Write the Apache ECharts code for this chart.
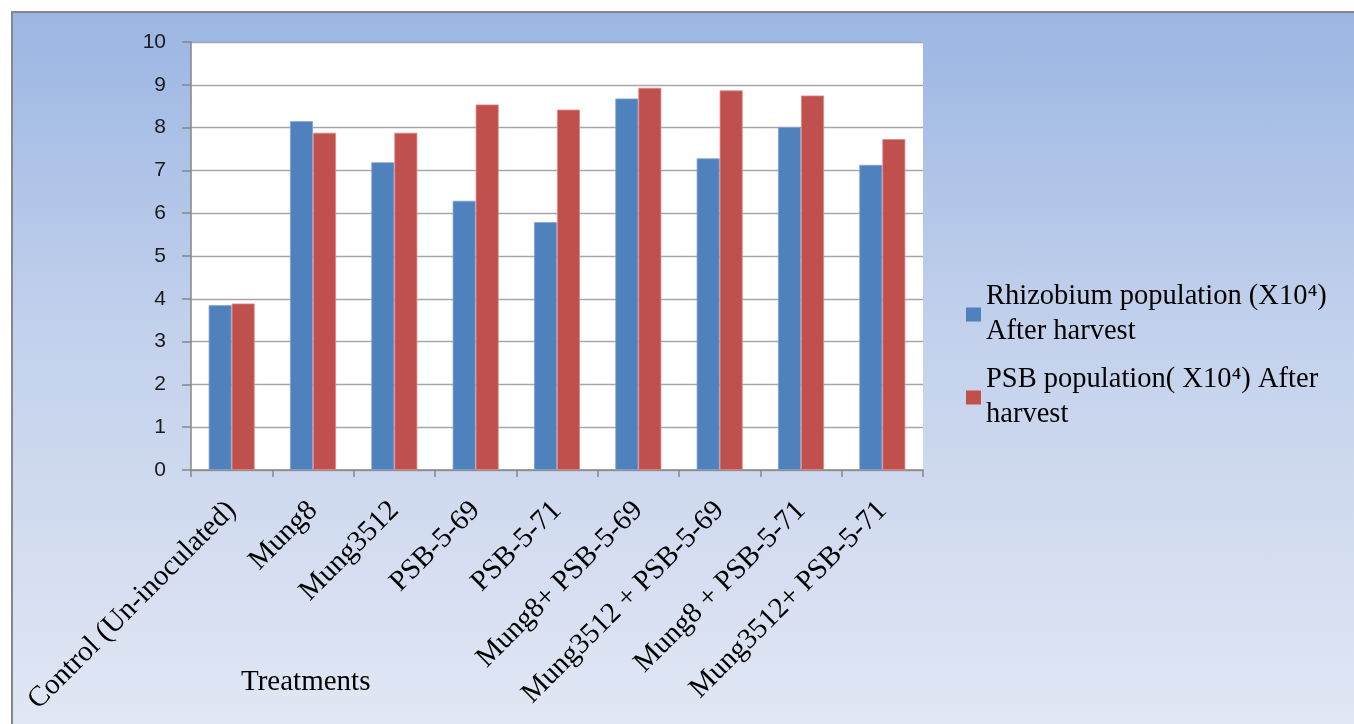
<!DOCTYPE html>
<html>
<head>
<meta charset="utf-8">
<script src="https://cdn.jsdelivr.net/npm/echarts@6/dist/echarts.min.js"></script>
<style>
html,body{margin:0;padding:0;background:#fff;width:1354px;height:724px;overflow:hidden;}
#bg{position:absolute;left:11px;top:11px;width:1343px;height:713px;border-left:2px solid #878787;border-top:2px solid #878787;box-sizing:border-box;background:linear-gradient(to bottom,#9BB6E3 0%,#C3D1EC 45%,#E1E7F4 100%);}
#chart{position:absolute;left:0;top:0;width:1354px;height:724px;}
</style>
</head>
<body>
<div id="bg"></div>
<div id="chart"></div>
<script>
const categories = ['Control (Un-inoculated)', 'Mung8', 'Mung3512', 'PSB-5-69', 'PSB-5-71', 'Mung8+ PSB-5-69', 'Mung3512 + PSB-5-69', 'Mung8 + PSB-5-71', 'Mung3512+ PSB-5-71'];
const rhizobium = [3.85, 8.15, 7.19, 6.29, 5.79, 8.68, 7.28, 8.01, 7.13];
const psb = [3.89, 7.88, 7.88, 8.54, 8.42, 8.93, 8.87, 8.75, 7.73];
const seriesNames = ['Rhizobium population (X10⁴)\nAfter harvest', 'PSB population( X10⁴) After\nharvest'];
const yTicks = {min: 0, max: 10, interval: 1};

const chart = echarts.init(document.getElementById('chart'), null, {renderer: 'canvas'});
const serif = 'Liberation Serif';
const legendText = {fontFamily: serif, fontSize: 28.5, color: '#000', lineHeight: 35, padding: [35, 0, 0, 0]};
const legendIcon = {borderWidth: 0};
chart.setOption({
  animation: false,
  backgroundColor: 'transparent',
  title: {text: 'Treatments', left: 236, top: 663, textStyle: {fontFamily: serif, fontSize: 29, fontWeight: 'normal', color: '#000'}},
  legend: [
    {data: [seriesNames[0]], orient: 'vertical', left: 966, top: 262, padding: 0, itemWidth: 15, itemHeight: 14, icon: 'rect', itemStyle: legendIcon, textStyle: legendText},
    {data: [seriesNames[1]], orient: 'vertical', left: 966, top: 345, padding: 0, itemWidth: 15, itemHeight: 14, icon: 'rect', itemStyle: legendIcon, textStyle: legendText}
  ],
  grid: {left: 191, right: 431, top: 42, bottom: 254, show: true, backgroundColor: '#fff', borderWidth: 0, containLabel: false},
  xAxis: {
    type: 'category', data: categories,
    axisLine: {lineStyle: {color: '#868686', width: 1.5}},
    axisTick: {show: true, length: 7, lineStyle: {color: '#868686', width: 1.5}},
    axisLabel: {interval: 0, rotate: 45, margin: 36, fontFamily: serif, fontSize: 29, color: '#000'}
  },
  yAxis: {
    type: 'value', min: yTicks.min, max: yTicks.max, interval: yTicks.interval,
    axisLine: {show: true, lineStyle: {color: '#868686', width: 1.5}},
    axisTick: {show: true, length: 9, lineStyle: {color: '#868686', width: 1.5}},
    axisLabel: {margin: 25, fontFamily: 'Liberation Sans', fontSize: 21, color: '#1a1a1a'},
    splitLine: {lineStyle: {color: '#A6A6A6', width: 1.3}}
  },
  series: [
    {name: seriesNames[0], type: 'bar', data: rhizobium, barWidth: 23, barGap: '0%', itemStyle: {color: '#4F81BD', borderColor: '#7FA3D6', borderWidth: 0.8}},
    {name: seriesNames[1], type: 'bar', data: psb, barWidth: 23, barGap: '0%', itemStyle: {color: '#C0504D', borderColor: '#E08A88', borderWidth: 0.8}}
  ]
});
</script>
</body>
</html>
